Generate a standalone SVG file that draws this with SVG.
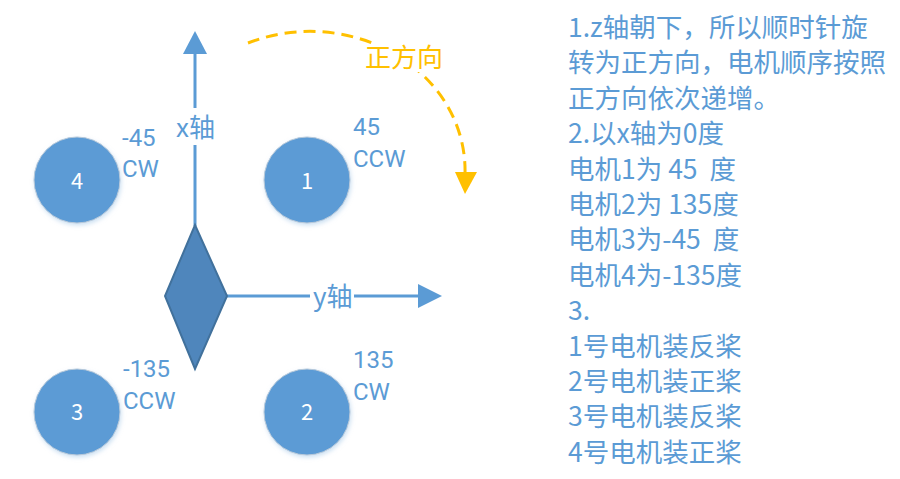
<svg xmlns="http://www.w3.org/2000/svg" width="900" height="479" viewBox="0 0 900 479">
<defs>
<style>
text{font-family:"Noto Sans CJK SC","Noto Sans",sans-serif;white-space:pre}
.b{fill:#5b9bd5;font-size:26.5px}
.m{fill:#5b9bd5;font-size:24px;font-family:Roboto,"Noto Sans",sans-serif}
.lbl{fill:#5b9bd5;font-size:26px}
.num{fill:#ffffff;font-size:22px;text-anchor:middle}
.motor{fill:#5b9bd5;stroke:#b8c9da;stroke-width:1;filter:url(#sh)}
.axis{stroke:#5b9bd5;stroke-width:3;fill:none}
</style>
<filter id="sh" x="-20%" y="-20%" width="150%" height="150%">
<feDropShadow dx="1" dy="2" stdDeviation="2" flood-color="#9dc3e6" flood-opacity="0.5"/>
</filter>
</defs>
<rect width="900" height="479" fill="#ffffff"/>
<g id="connectors">
<line class="axis" x1="195" y1="226" x2="195" y2="50"/>
<polygon points="195,31 183,54 207,54" fill="#5b9bd5"/>
<line class="axis" x1="226" y1="296" x2="422" y2="296"/>
<polygon points="442,296 418,284 418,308" fill="#5b9bd5"/>
<path d="M248,43 A155,139 0 0 1 465,174" fill="none" stroke="#ffc000" stroke-width="3" stroke-dasharray="12,7"/>
<polygon points="465,194 455,172 477,172" fill="#ffc000"/>
</g>
<g id="x-label">
<rect x="176" y="108" width="38" height="37" fill="#ffffff"/>
<text class="lbl" x="176" y="137">x轴</text>
</g>
<g id="y-label">
<rect x="310" y="284" width="44" height="26" fill="#ffffff"/>
<text class="lbl" x="313" y="306">y轴</text>
</g>
<g id="direction-label">
<rect x="362" y="44" width="84" height="28" fill="#ffffff"/>
<text x="365" y="67" style="fill:#ffc000;font-size:26px">正方向</text>
</g>
<g id="body">
<polygon points="195,225 227,296 195,369 165,296" fill="#4f86bc" stroke="#41719c" stroke-width="2"/>
</g>
<g id="motor4">
<circle class="motor" cx="77" cy="180" r="43"/>
<text class="num" x="77" y="189">4</text>
<text class="m" x="122" y="146">-45</text>
<text class="m" x="122" y="177">CW</text>
</g>
<g id="motor1">
<circle class="motor" cx="307" cy="180" r="43"/>
<text class="num" x="307" y="189">1</text>
<text class="m" x="353" y="135">45</text>
<text class="m" x="353" y="167">CCW</text>
</g>
<g id="motor3">
<circle class="motor" cx="77" cy="412" r="43"/>
<text class="num" x="77" y="420">3</text>
<text class="m" x="123" y="377">-135</text>
<text class="m" x="123" y="409">CCW</text>
</g>
<g id="motor2">
<circle class="motor" cx="307" cy="412" r="43"/>
<text class="num" x="307" y="420">2</text>
<text class="m" x="353" y="368">135</text>
<text class="m" x="353" y="400">CW</text>
</g>
<g id="notes">
<text class="b" x="568" y="37">1.z轴朝下，所以顺时针旋</text>
<text class="b" x="568" y="72.4">转为正方向，电机顺序按照</text>
<text class="b" x="568" y="107.8">正方向依次递增。</text>
<text class="b" x="568" y="143.2">2.以x轴为0度</text>
<text class="b" x="568" y="178.6">电机1为 45  度</text>
<text class="b" x="568" y="214">电机2为 135度</text>
<text class="b" x="568" y="249.4">电机3为-45  度</text>
<text class="b" x="568" y="284.8">电机4为-135度</text>
<text class="b" x="568" y="320.2">3.</text>
<text class="b" x="568" y="355.6">1号电机装反桨</text>
<text class="b" x="568" y="391">2号电机装正桨</text>
<text class="b" x="568" y="426.4">3号电机装反桨</text>
<text class="b" x="568" y="461.8">4号电机装正桨</text>
</g>
</svg>
